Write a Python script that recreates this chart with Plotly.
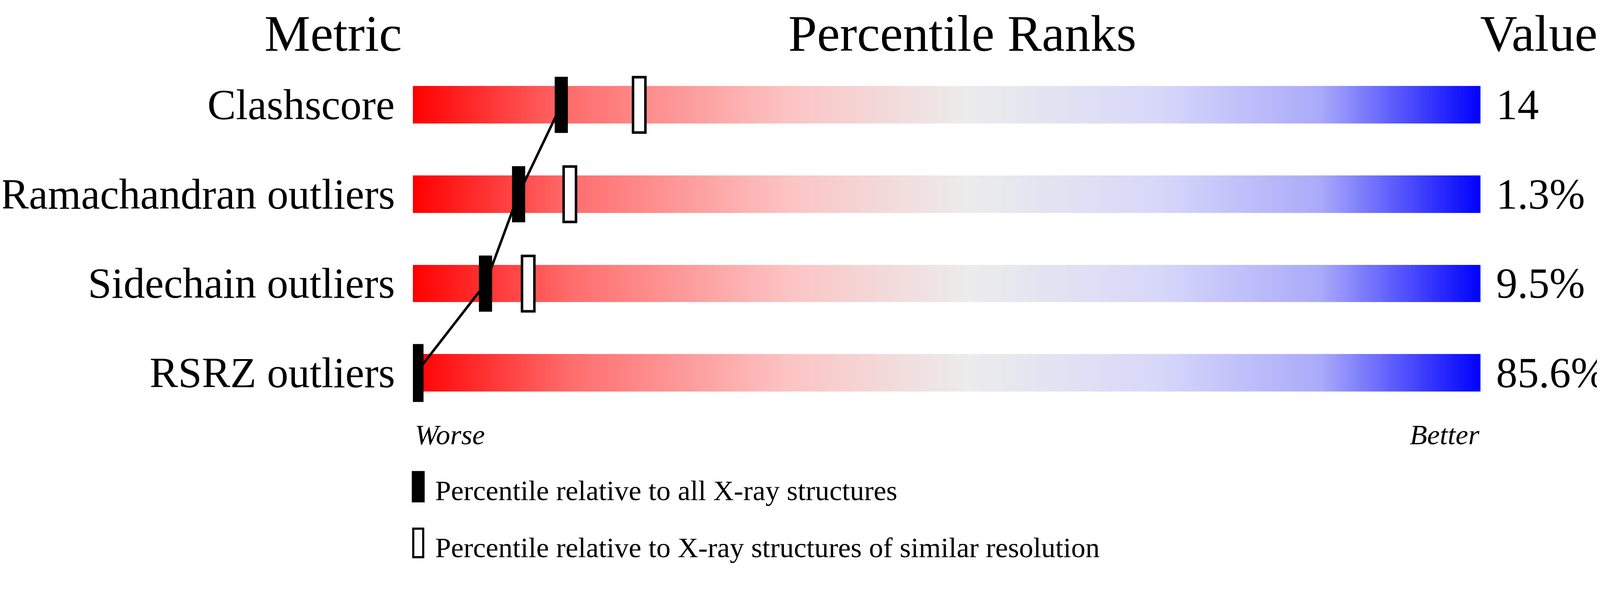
import numpy as np
import plotly.graph_objects as go

metrics = ["Clashscore", "Ramachandran outliers", "Sidechain outliers", "RSRZ outliers"]
values = ["14", "1.3%", "9.5%", "85.6%"]
pct_all = [13.9, 9.9, 6.8, 0.3]
pct_res = [21.2, 14.7, 10.8, 0.3]

S = 1 / 1.098
W, H = int(4506 * S), int(1574 * S)
L, R, T, B = 1152 * S, 4153 * S, 160 * S, 1165 * S
FONT = "Liberation Serif"

def px(x): return (x * S - L) / (R - L)
def py(y): return 1 - (y * S - T) / (B - T)

grad_x = np.linspace(0, 100, 301)
z = [list(grad_x) for _ in metrics]
cs = [[0, "rgb(255,0,0)"], [0.15, "rgb(255,110,110)"], [0.35, "rgb(252,195,195)"],
      [0.52, "rgb(236,236,236)"], [0.7, "rgb(215,215,250)"], [0.85, "rgb(170,170,250)"],
      [1, "rgb(0,0,255)"]]

fig = go.Figure()
fig.add_trace(go.Heatmap(x=grad_x, y=list(range(len(metrics))), z=z, colorscale=cs,
                         showscale=False, ygap=146 * S, hoverinfo="skip"))
fig.add_trace(go.Scatter(x=pct_all, y=list(range(len(metrics))), mode="lines",
                         line=dict(color="black", width=7 * S), hoverinfo="skip"))
hw, hh = 0.58, 0.31
shapes = []
for i in range(len(metrics)):
    shapes.append(dict(type="rect", xref="x", yref="y", x0=pct_res[i]-hw, x1=pct_res[i]+hw,
                       y0=i-hh, y1=i+hh, fillcolor="white", line=dict(color="black", width=7 * S)))
for i in range(len(metrics)):
    shapes.append(dict(type="rect", xref="x", yref="y", x0=pct_all[i]-hw, x1=pct_all[i]+hw,
                       y0=i-hh, y1=i+hh, fillcolor="black", line=dict(color="black", width=2)))
shapes.append(dict(type="rect", xref="paper", yref="paper", x0=px(1150), x1=px(1184),
                   y0=py(1402), y1=py(1316), fillcolor="black", line=dict(color="black", width=2)))
shapes.append(dict(type="rect", xref="paper", yref="paper", x0=px(1153), x1=px(1181),
                   y0=py(1557), y1=py(1477), fillcolor="white", line=dict(color="black", width=6 * S)))

ann = []
def t(text, x, y, size, xanchor="center", italic=False, yanchor="middle"):
    ann.append(dict(text=f"<i>{text}</i>" if italic else text, x=px(x), y=py(y), xref="paper",
                    yref="paper", showarrow=False, xanchor=xanchor, yanchor=yanchor,
                    font=dict(family=FONT, size=size * S, color="black")))
t("Metric", 928, 2, 145, yanchor="top")
t("Percentile Ranks", 2696, 2, 145, yanchor="top")
t("Value", 4317, 2, 145, yanchor="top")
for i, m in enumerate(metrics):
    ann.append(dict(text=m, x=px(1104), y=i, xref="paper", yref="y", showarrow=False,
                    xanchor="right", yanchor="middle", font=dict(family=FONT, size=120 * S, color="black")))
    ann.append(dict(text=values[i], x=px(4195), y=i, xref="paper", yref="y", showarrow=False,
                    xanchor="left", yanchor="middle", font=dict(family=FONT, size=120 * S, color="black")))
t("Worse", 1155, 1213, 80, "left", True)
t("Better", 4153, 1213, 80, "right", True)
t("Percentile relative to all X-ray structures", 1212, 1370, 80, "left")
t("Percentile relative to X-ray structures of similar resolution", 1212, 1530, 80, "left")

fig.update_layout(width=W, height=H, margin=dict(l=L, r=W-R, t=T, b=H-B),
                  plot_bgcolor="white", paper_bgcolor="white", showlegend=False,
                  xaxis=dict(range=[0, 100], visible=False, fixedrange=True),
                  yaxis=dict(range=[3.5, -0.5], visible=False, fixedrange=True),
                  shapes=shapes, annotations=ann)
fig.write_html("out.html")
